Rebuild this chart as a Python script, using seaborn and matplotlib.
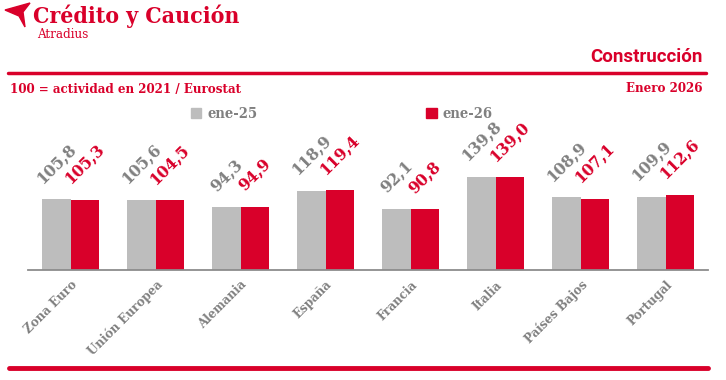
import pandas as pd
import seaborn as sns
import matplotlib.pyplot as plt
from matplotlib.patches import Polygon, Patch
from matplotlib.lines import Line2D

# data
paises = ['Zona Euro', 'Unión Europea', 'Alemania', 'España', 'Francia',
          'Italia', 'Países Bajos', 'Portugal']
ene25 = [105.8, 105.6, 94.3, 118.9, 92.1, 139.8, 108.9, 109.9]
ene26 = [105.3, 104.5, 94.9, 119.4, 90.8, 139.0, 107.1, 112.6]
series = ['ene-25', 'ene-26']

RED = '#D9002A'
GREY_BAR = '#BDBDBD'
GREY_TXT = '#808080'
SERIF = dict(family='DejaVu Serif', stretch='condensed', weight='bold')

df = pd.DataFrame({'pais': paises * 2,
                   'periodo': [series[0]] * len(paises) + [series[1]] * len(paises),
                   'valor': ene25 + ene26})

sns.set_style('white')
fig = plt.figure(figsize=(7.26, 3.80), dpi=100)
W, H = 726, 380

ax = fig.add_axes([28 / W, 1 - 270 / H, 680 / W, 140 / H])
sns.barplot(data=df, x='pais', y='valor', hue='periodo', order=paises,
            palette=[GREY_BAR, RED], width=0.66, linewidth=0, saturation=1,
            legend=False, ax=ax)
ax.set_xlim(-0.5, len(paises) - 0.5)
ax.set_ylim(0, 210)
ax.set_xlabel('')
ax.set_ylabel('')
ax.set_yticks([])
for s in ['top', 'right', 'left']:
    ax.spines[s].set_visible(False)
ax.spines['bottom'].set_color('#8c8c8c')
ax.spines['bottom'].set_linewidth(1.3)

# ticks as separators between groups
ax.set_xticks(range(len(paises)))
ax.set_xticklabels(paises, rotation=45, ha='right', rotation_mode='anchor',
                   color=GREY_TXT, fontsize=9.5, **SERIF)
ax.tick_params(axis='x', which='major', length=0, pad=6)
ax.set_xticks([i - 0.5 for i in range(len(paises))], minor=True)
ax.tick_params(axis='x', which='minor', length=5, width=1.2, color='#8c8c8c')
ax.patch.set_alpha(0)

# value labels
for cont, col in zip(ax.containers, [GREY_TXT, RED]):
    for bar in cont:
        v = bar.get_height()
        ax.annotate(f'{v:.1f}'.replace('.', ','),
                    (bar.get_x() + bar.get_width() / 2, v),
                    xytext=(0, 9), textcoords='offset points',
                    rotation=45, ha='center', va='bottom',
                    color=col, fontsize=12.5, **SERIF)

# header
logo = Polygon([(5 / W, 1 - 10 / H), (30 / W, 1 - 3 / H), (23 / W, 1 - 12 / H),
                (25 / W, 1 - 27 / H), (19 / W, 1 - 16 / H)],
               closed=True, color=RED, transform=fig.transFigure)
fig.patches.append(logo)
fig.text(33 / W, 1 - 16 / H, 'Crédito y Caución', color=RED, fontsize=16.5,
         va='center', ha='left', **SERIF)
fig.text(37 / W, 1 - 35 / H, 'Atradius', color=RED, fontsize=9.5,
         va='center', ha='left', family='DejaVu Serif', stretch='condensed')
fig.text(703 / W, 1 - 57 / H, 'Construcción', color=RED, fontsize=13.5,
         va='center', ha='right', family='Roboto', weight='bold')
fig.add_artist(Line2D([8 / W, 706 / W], [1 - 73 / H] * 2, color=RED, lw=2.5,
                      transform=fig.transFigure))
fig.text(10 / W, 1 - 89 / H, '100 = actividad en 2021 / Eurostat', color=RED,
         fontsize=9.5, va='center', ha='left', **SERIF)
fig.text(703 / W, 1 - 89 / H, 'Enero 2026', color=RED,
         fontsize=9.5, va='center', ha='right', **SERIF)
fig.add_artist(Line2D([9 / W, 708 / W], [1 - 368 / H] * 2, color=RED, lw=3.5,
                      transform=fig.transFigure))

# legend
handles = [Patch(color=GREY_BAR, label=series[0]), Patch(color=RED, label=series[1])]
leg = fig.legend(handles=handles, loc='center left', ncol=2,
                 bbox_to_anchor=(178 / W, 1 - 114 / H), frameon=False,
                 handlelength=0.7, handleheight=0.7, handletextpad=0.4,
                 columnspacing=11.6, prop=dict(size=10.5, **SERIF))
for t in leg.get_texts():
    t.set_color(GREY_TXT)

fig.savefig('out.png', dpi=100)
